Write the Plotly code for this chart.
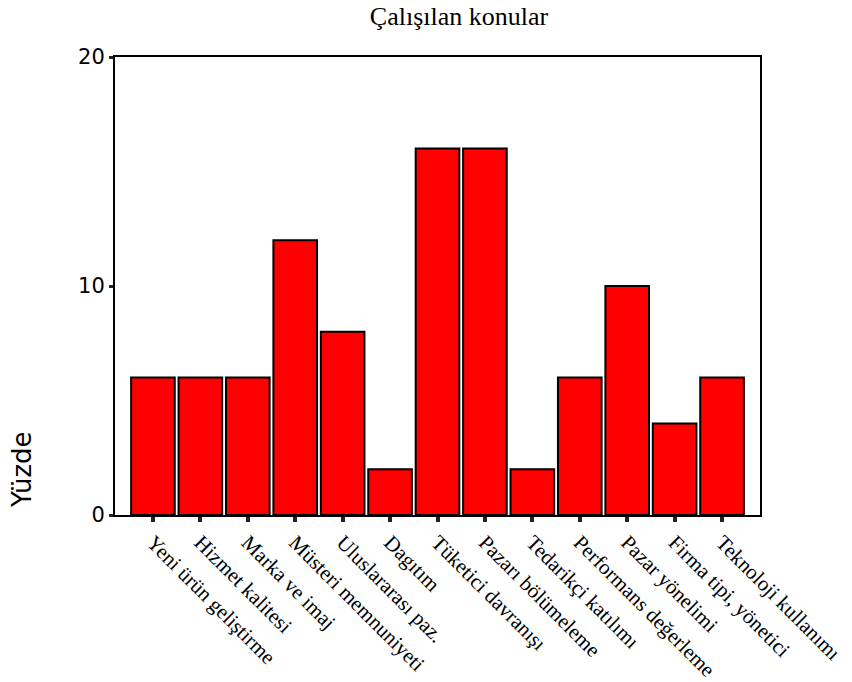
import plotly.graph_objects as go

categories = ["Yeni ürün geliştirme", "Hizmet kalitesi", "Marka ve imaj", "Müsteri memnuniyeti",
              "Uluslararası paz.", "Dagıtım", "Tüketici davranışı", "Pazarı bölümeleme",
              "Tedarikçi katılımı", "Performans değerleme", "Pazar yönelimi",
              "Firma tipi, yönetici", "Teknoloji kullanımı"]
values = [6, 6, 6, 12, 8, 2, 16, 16, 2, 6, 10, 4, 6]
y_ticks = [0, 10, 20]

W, H = 852, 682
L, R, T, B = 115, 92, 57, 167
pw, ph = W - L - R, H - T - B

fig = go.Figure(go.Bar(
    x=list(range(len(categories))), y=values,
    marker=dict(color="#FF0000", line=dict(color="black", width=2)),
    width=0.92,
))

fig.update_layout(
    width=W, height=H,
    margin=dict(l=L, r=R, t=T, b=B, autoexpand=False),
    plot_bgcolor="white", paper_bgcolor="white",
    showlegend=False,
    title=dict(text="Çalışılan konular", x=459 / W, xanchor="center", y=1 - 16 / H, yanchor="middle",
               font=dict(family="Liberation Serif", size=26, color="black")),
    xaxis=dict(range=[-0.8, 12.8], tickmode="array", tickvals=list(range(len(categories))),
               ticktext=categories, tickangle=45, showgrid=False, zeroline=False,
               automargin=False,
               showline=True, linecolor="black", linewidth=2, mirror=True,
               ticks="outside", ticklen=5, tickwidth=4, tickcolor="#222",
               tickfont=dict(family="Liberation Serif", size=21, color="black")),
    yaxis=dict(range=[0, 20], tickvals=y_ticks, showgrid=False, zeroline=False,
               automargin=False,
               showline=True, linecolor="black", linewidth=2, mirror=True,
               ticks="outside", ticklen=4, tickwidth=3, tickcolor="#222",
               tickfont=dict(family="DejaVu Sans", size=21, color="black")),
    annotations=[dict(text="Yüzde", x=(22 - L) / pw, y=(H - B - 469) / ph,
                      xref="paper", yref="paper", xanchor="center", yanchor="middle",
                      showarrow=False, textangle=-90,
                      font=dict(family="DejaVu Sans", size=26, color="black"))],
)

fig.write_html("out.html", config={"displayModeBar": False},
               post_script="document.body.style.margin='0';")
